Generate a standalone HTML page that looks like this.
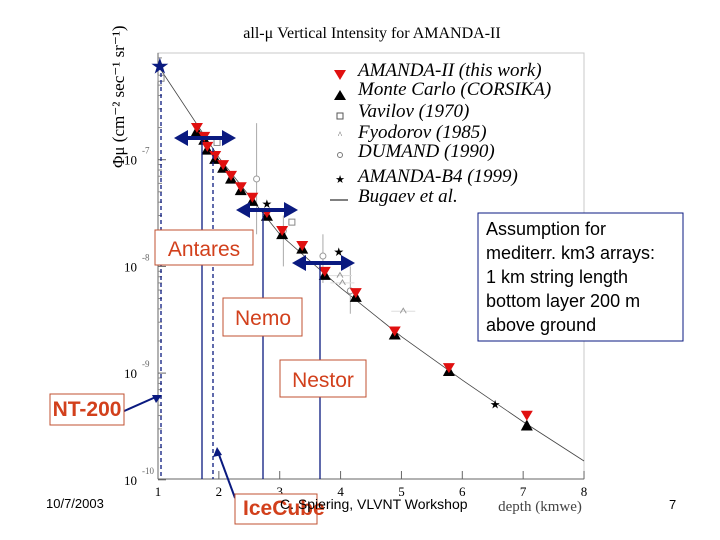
<!DOCTYPE html>
<html><head><meta charset="utf-8"><style>
body{margin:0;background:#fff}
svg{display:block}
.lg{font-family:"Liberation Serif",serif;font-style:italic;font-size:19px;fill:#000}
.bx{font-family:"Liberation Sans",sans-serif;font-size:21px;fill:#d2401c}
</style></head><body>
<svg id="chart" width="720" height="540" viewBox="0 0 720 540" xmlns="http://www.w3.org/2000/svg">
<text x="372" y="38" text-anchor="middle" font-family="Liberation Serif,serif" font-size="16">all-μ Vertical Intensity for AMANDA-II</text>
<rect x="158" y="53" width="426" height="426" fill="none" stroke="#c8c8c8"/>
<g id="axes"></g>
<g id="marks"></g>
<g>
<path d="M334,70 L346,70 L340,80 Z" fill="#e01010"/><text class="lg" x="358" y="76">AMANDA-II (this work)</text>
<path d="M334,100 L346,100 L340,90 Z" fill="#000"/><text class="lg" x="358" y="95">Monte Carlo (CORSIKA)</text>
<rect x="337" y="113" width="6" height="6" fill="none" stroke="#555"/><text class="lg" x="358" y="117">Vavilov (1970)</text>
<text x="340" y="138" font-size="9" text-anchor="middle" fill="#555">^</text><text class="lg" x="358" y="138">Fyodorov (1985)</text>
<circle cx="340" cy="155" r="2.5" fill="none" stroke="#777"/><text class="lg" x="358" y="157">DUMAND (1990)</text>
<text x="340" y="183" font-size="11" text-anchor="middle">★</text><text class="lg" x="358" y="182">AMANDA-B4 (1999)</text>
<line x1="330" y1="200" x2="348" y2="200" stroke="#000"/><text class="lg" x="358" y="202">Bugaev et al.</text>
</g>
<g>
<g stroke="#0a1a80" stroke-width="1.3">
<line x1="161" y1="66" x2="161" y2="479" stroke-dasharray="4,3"/>
<line x1="213" y1="148" x2="213" y2="479" stroke-dasharray="4,3"/>
<line x1="202" y1="138" x2="202" y2="479"/>
<line x1="263" y1="210" x2="263" y2="479"/>
<line x1="320" y1="263" x2="320" y2="479"/>
</g>
<g fill="#0a1a80" stroke="#0a1a80" stroke-width="4">
<line x1="185" y1="138" x2="225" y2="138"/><path d="M174,138 L188,130 L188,146Z" stroke-width="0"/><path d="M236,138 L222,130 L222,146Z" stroke-width="0"/>
<line x1="246" y1="210" x2="288" y2="210"/><path d="M236,210 L250,202 L250,218Z" stroke-width="0"/><path d="M298,210 L284,202 L284,218Z" stroke-width="0"/>
<line x1="303" y1="263" x2="345" y2="263"/><path d="M292,263 L306,255 L306,271Z" stroke-width="0"/><path d="M355,263 L341,255 L341,271Z" stroke-width="0"/>
<line x1="122" y1="412" x2="158" y2="396" stroke-width="2"/><line x1="235" y1="498" x2="218" y2="452" stroke-width="2"/>
<path d="M162,395 L152,395 L156,403Z" stroke-width="0"/><path d="M217,447 L213,457 L222,455Z" stroke-width="0"/>
</g>
<rect x="155" y="230" width="98" height="35" fill="#fff" stroke="#c05030"/><text class="bx" x="204" y="256" text-anchor="middle">Antares</text>
<rect x="223" y="298" width="79" height="38" fill="#fff" stroke="#c05030"/><text class="bx" x="263" y="325" text-anchor="middle">Nemo</text>
<rect x="280" y="360" width="86" height="37" fill="#fff" stroke="#c05030"/><text class="bx" x="323" y="387" text-anchor="middle">Nestor</text>
<rect x="50" y="394" width="74" height="31" fill="#fff" stroke="#c05030"/><text class="bx" x="87" y="416" text-anchor="middle" font-size="15" font-weight="bold">NT-200</text>
<rect x="235" y="494" width="82" height="30" fill="#fff" stroke="#c05030"/><text class="bx" x="243" y="515" font-size="18" font-weight="bold">IceCube</text>
<rect x="478" y="213" width="205" height="128" fill="#fff" stroke="#0a1a80"/>
<g font-family="Liberation Sans,sans-serif" font-size="18" fill="#000">
<text x="486" y="235">Assumption for</text><text x="486" y="259">mediterr. km3 arrays:</text><text x="486" y="283">1 km string length</text><text x="486" y="307">bottom layer 200 m</text><text x="486" y="331">above ground</text></g>
</g>
<g font-family="Liberation Sans,sans-serif" font-size="13" fill="#000">
<text x="46" y="508">10/7/2003</text><text x="280" y="509" font-size="14">C. Spiering, VLVNT Workshop</text><text x="669" y="509">7</text></g>
</svg>
<script>
const svgNS="http://www.w3.org/2000/svg";
const xTicks=[1,2,3,4,5,6,7,8];
const yDecades=[-7,-8,-9,-10];
const depths=[1.64,1.76,1.81,1.94,2.07,2.20,2.36,2.55,2.79,3.04,3.37,3.74,4.25,4.89,5.78,7.06];
const amandaII=[1.94e-7,1.6e-7,1.29e-7,1.06e-7,8.7e-8,6.9e-8,5.4e-8,4.3e-8,3.1e-8,2.1e-8,1.52e-8,8.7e-9,5.5e-9,2.4e-9,1.09e-9,3.9e-10];
const monteCarlo=[1.9e-7,1.57e-7,1.27e-7,1.04e-7,8.6e-8,6.8e-8,5.3e-8,4.2e-8,3.05e-8,2.05e-8,1.5e-8,8.5e-9,5.3e-9,2.35e-9,1.07e-9,3.3e-10];
const b4Depths=[1.03,2.79,3.97,6.54];
const b4Values=[7.6e-7,3.85e-8,1.36e-8,5.1e-10];
const bugaevDepths=[1.03,2,3,4,5,6,7,8];
const bugaevValues=[7.2e-7,1.05e-7,2.0e-8,6.3e-9,2.2e-9,8.6e-10,3.5e-10,1.5e-10];
const vavilovDepths=[1.05,1.97,3.2];
const vavilovValues=[5.8e-7,1.45e-7,2.6e-8];
const dumandDepths=[2.62,3.06,3.71,4.16];
const dumandValues=[6.6e-8,2.15e-8,1.25e-8,5.9e-9];
const dumandErrLo=[2.0e-8,1.0e-8,7.0e-9,3.6e-9];
const dumandErrHi=[2.2e-7,3.0e-8,2.0e-8,1.0e-8];
const fyodorovDepths=[3.99,4.03,5.03];
const fyodorovValues=[8.2e-9,7.0e-9,3.8e-9];
const X=d=>158+(d-1)*60.86;
const Y=v=>53+(-6-Math.log10(v))*106.7;
function mk(t,a,p){const e=document.createElementNS(svgNS,t);for(const k in a)e.setAttribute(k,a[k]);(p||document.getElementById('marks')).appendChild(e);return e;}
const ax=document.getElementById('axes');
mk('line',{x1:158,y1:479,x2:584,y2:479,stroke:'#666'},ax);
mk('line',{x1:158,y1:53,x2:158,y2:479,stroke:'#666'},ax);
xTicks.forEach(t=>{const l=mk('line',{x1:X(t),y1:479,x2:X(t),y2:471,stroke:'#666'},ax);


const tx=mk('text',{x:X(t),y:496,'text-anchor':'middle','font-family':'Liberation Serif,serif','font-size':13},ax);tx.textContent=t;

});
yDecades.forEach(d=>{const y=Y(Math.pow(10,d));mk('line',{x1:158,y1:y,x2:166,y2:y,stroke:'#666'},ax);
for(let m=2;m<10;m++){const yy=Y(m*Math.pow(10,d));if(yy>53)mk('line',{x1:158,y1:yy,x2:162,y2:yy,stroke:'#888'},ax);}
const tx=mk('text',{x:124,y:y+5,'font-family':'Liberation Serif,serif','font-size':13},ax);tx.textContent='10';


const sp=mk('text',{x:142,y:y-6,'font-family':'Liberation Serif,serif','font-size':9,fill:'#666'},ax);sp.textContent=String(d);});
const yt=mk('text',{transform:'translate(124,168) rotate(-90)','font-family':'Liberation Serif,serif','font-size':17},ax);
yt.textContent='Φμ (cm⁻² sec⁻¹ sr⁻¹)';


const xt=mk('text',{x:540,y:511,'text-anchor':'middle','font-family':'Liberation Serif,serif','font-size':15,fill:'#444'},ax);
xt.textContent='depth (kmwe)';


const bl=mk('polyline',{points:bugaevDepths.map((d,i)=>X(d)+','+Y(bugaevValues[i])).join(' '),fill:'none',stroke:'#444','stroke-width':0.8});


vavilovDepths.forEach((d,i)=>{const r=mk('rect',{x:X(d)-3,y:Y(vavilovValues[i])-3,width:6,height:6,fill:'#fff',stroke:'#888'});

});
dumandDepths.forEach((d,i)=>{const x=X(d);mk('line',{x1:x,y1:Y(dumandErrHi[i]),x2:x,y2:Y(dumandErrLo[i]),stroke:'#aaa'});
const c=mk('circle',{cx:x,cy:Y(dumandValues[i]),r:3,fill:'#fff',stroke:'#999'});

});
fyodorovDepths.forEach((d,i)=>{const x=X(d),y=Y(fyodorovValues[i]);mk('line',{x1:x-12,y1:y,x2:x+12,y2:y,stroke:'#ddd'});
const t=mk('path',{d:`M${x-3},${y+2} L${x},${y-3} L${x+3},${y+2}`,fill:'none',stroke:'#999'});

});
depths.forEach((d,i)=>{const x=X(d),ym=Y(monteCarlo[i]),ya=Y(amandaII[i]);
const t=mk('path',{d:`M${x-6},${ym+6} L${x+6},${ym+6} L${x},${ym-5} Z`,fill:'#000'});


const r=mk('path',{d:`M${x-6},${ya-6} L${x+6},${ya-6} L${x},${ya+4} Z`,fill:'#e01010'});

});
b4Depths.forEach((d,i)=>{const big=i===0;const s=mk('text',{x:X(d),y:Y(b4Values[i])+(big?8:4),'text-anchor':'middle','font-size':big?22:12,fill:big?'#0a1a80':'#000'});
s.textContent='★';

});
</script>
</body></html>
